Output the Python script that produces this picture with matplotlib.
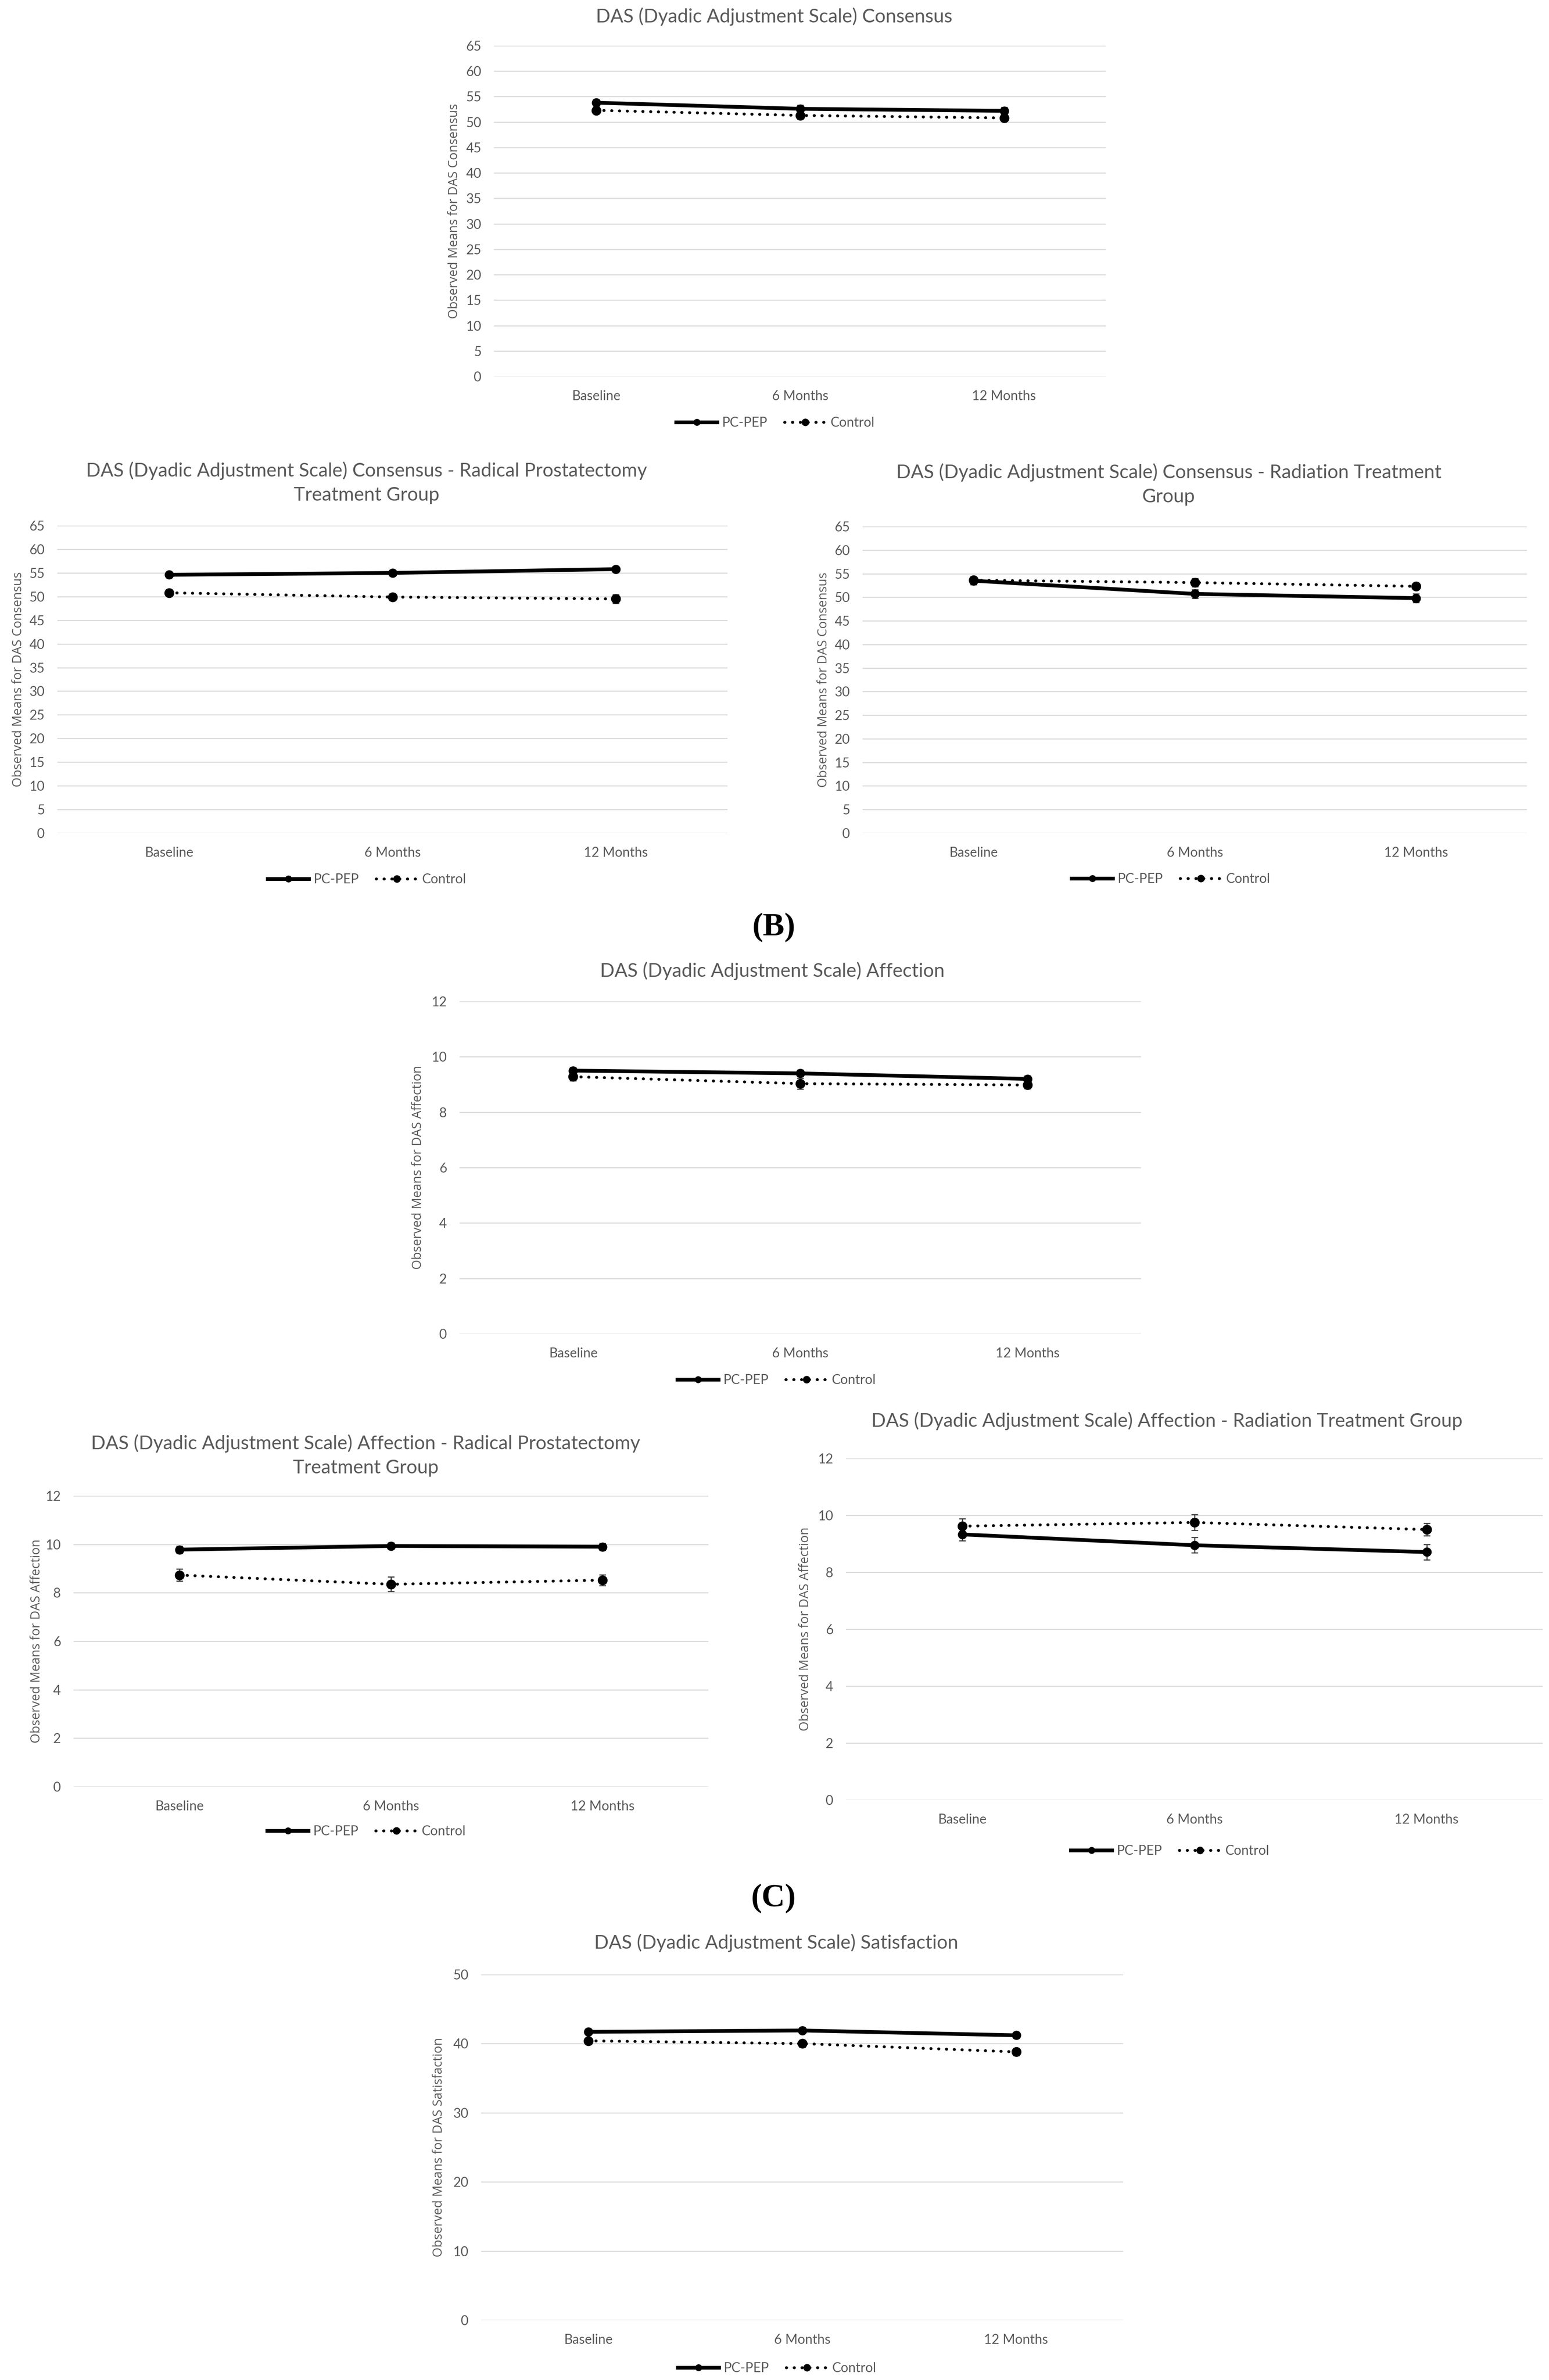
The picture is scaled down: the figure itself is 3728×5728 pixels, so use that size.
import matplotlib
matplotlib.use("Agg")
import matplotlib.pyplot as plt
from matplotlib.lines import Line2D

W, H = 3728, 5728
DPI = 100
GREY = "#595959"
GRID = "#d9d9d9"
TEXT_FONT = ["Lato", "DejaVu Sans"]
LABEL_FONT = ["Open Sans", "DejaVu Sans"]
DOTS = (0, (0.1, 2.6))

time_points = ["Baseline", "6 Months", "12 Months"]

# Consensus, all participants
cons_pcpep = [53.8, 52.6, 52.2]
cons_pcpep_err = [0.6, 0.7, 0.7]
cons_control = [52.3, 51.3, 50.8]
cons_control_err = [0.6, 0.7, 0.6]

# Consensus, radical prostatectomy group
cons_rp_pcpep = [54.6, 55.0, 55.8]
cons_rp_pcpep_err = [0.6, 0.6, 0.6]
cons_rp_control = [50.8, 49.9, 49.5]
cons_rp_control_err = [0.7, 0.7, 0.9]

# Consensus, radiation group
cons_rad_pcpep = [53.5, 50.7, 49.8]
cons_rad_pcpep_err = [0.8, 0.9, 0.9]
cons_rad_control = [53.6, 53.1, 52.3]
cons_rad_control_err = [0.6, 0.9, 0.7]

# Affection, all participants
aff_pcpep = [9.50, 9.40, 9.20]
aff_pcpep_err = [0.12, 0.12, 0.12]
aff_control = [9.28, 9.03, 8.98]
aff_control_err = [0.14, 0.2, 0.13]

# Affection, radical prostatectomy group
aff_rp_pcpep = [9.78, 9.93, 9.90]
aff_rp_pcpep_err = [0.15, 0.13, 0.15]
aff_rp_control = [8.73, 8.35, 8.52]
aff_rp_control_err = [0.25, 0.3, 0.22]

# Affection, radiation group
aff_rad_pcpep = [9.33, 8.95, 8.71]
aff_rad_pcpep_err = [0.22, 0.27, 0.27]
aff_rad_control = [9.62, 9.75, 9.50]
aff_rad_control_err = [0.27, 0.28, 0.22]

# Satisfaction, all participants
sat_pcpep = [41.7, 41.9, 41.2]
sat_pcpep_err = [0.4, 0.4, 0.4]
sat_control = [40.4, 40.0, 38.8]
sat_control_err = [0.4, 0.5, 0.5]


fig = plt.figure(figsize=(W / DPI, H / DPI), dpi=DPI)
fig.patch.set_facecolor("white")


def fx(px):
    return px / W


def fy(py):
    return 1 - py / H


def draw_panel(x0, x1, ytop, ybot, ymax, ystep, title, title_xy, ylabel, ylabel_x,
               pc, pc_err, ctl, ctl_err, legend_xy):
    ax = fig.add_axes([fx(x0), fy(ybot), fx(x1 - x0), (ybot - ytop) / H])
    xs = list(range(len(time_points)))

    ax.errorbar(xs, pc, yerr=pc_err, color="black", lw=6.5, marker="o", ms=15,
                ecolor="#333333", elinewidth=1.8, capsize=5.5, capthick=1.8,
                solid_capstyle="round", zorder=3)
    ax.errorbar(xs, ctl, yerr=ctl_err, color="black", lw=5, ls=DOTS,
                marker="o", ms=16, ecolor="#333333", elinewidth=1.8, capsize=5.5,
                capthick=1.8, dash_capstyle="round", zorder=3)

    ax.set_xlim(-0.5, len(time_points) - 0.5)
    ax.set_ylim(0, ymax)
    ax.set_yticks(range(0, ymax + 1, ystep))
    ax.set_xticks(xs)
    ax.set_xticklabels(time_points)
    ax.yaxis.grid(True, color=GRID, lw=1.8)
    ax.set_axisbelow(True)
    for s in ax.spines.values():
        s.set_visible(False)
    ax.tick_params(length=0, colors=GREY, labelsize=23)
    ax.tick_params(axis="x", pad=24)
    ax.tick_params(axis="y", pad=22)
    for lab in ax.get_xticklabels() + ax.get_yticklabels():
        lab.set_family(TEXT_FONT)

    fig.text(fx(title_xy[0]), fy(title_xy[1]), title, ha="center", va="center",
             color=GREY, fontsize=33, family=TEXT_FONT, linespacing=1.45)
    fig.text(fx(ylabel_x), fy((ytop + ybot) / 2), ylabel, rotation=90,
             ha="center", va="center", color=GREY, fontsize=22, family=LABEL_FONT)

    handles = [
        Line2D([0], [0], color="black", lw=6.5, marker="o", ms=11),
        Line2D([0], [0], color="black", lw=5, ls=DOTS,
               dash_capstyle="round", marker="o", ms=12),
    ]
    fig.legend(handles, ["PC-PEP", "Control"], loc="center",
               bbox_to_anchor=(fx(legend_xy[0]), fy(legend_xy[1])), ncol=2,
               frameon=False, handlelength=3.1, columnspacing=1.3,
               handletextpad=0.35, prop={"family": TEXT_FONT, "size": 23},
               labelcolor=GREY)
    return ax


# (A) Consensus
draw_panel(1189, 2662, 110, 906, 65, 5,
           "DAS (Dyadic Adjustment Scale) Consensus", (1863, 40),
           "Observed Means for DAS Consensus", 1093,
           cons_pcpep, cons_pcpep_err, cons_control, cons_control_err,
           (1866, 1018))

draw_panel(138, 1751, 1265, 2005, 65, 5,
           "DAS (Dyadic Adjustment Scale) Consensus - Radical Prostatectomy\nTreatment Group",
           (882, 1162), "Observed Means for DAS Consensus", 44,
           cons_rp_pcpep, cons_rp_pcpep_err, cons_rp_control, cons_rp_control_err,
           (883, 2117))

draw_panel(2076, 3675, 1267, 2005, 65, 5,
           "DAS (Dyadic Adjustment Scale) Consensus - Radiation Treatment\nGroup",
           (2813, 1166), "Observed Means for DAS Consensus", 1982,
           cons_rad_pcpep, cons_rad_pcpep_err, cons_rad_control, cons_rad_control_err,
           (2818, 2116))

fig.text(fx(1862), fy(2233), "(B)", ha="center", va="center", fontsize=56,
         fontweight="bold", family=["Liberation Serif", "DejaVu Serif"])

# Affection
draw_panel(1106, 2746, 2410, 3210, 12, 2,
           "DAS (Dyadic Adjustment Scale) Affection", (1859, 2337),
           "Observed Means for DAS Affection", 1006,
           aff_pcpep, aff_pcpep_err, aff_control, aff_control_err,
           (1869, 3322))

draw_panel(177, 1705, 3600, 4300, 12, 2,
           "DAS (Dyadic Adjustment Scale) Affection - Radical Prostatectomy\nTreatment Group",
           (880, 3503), "Observed Means for DAS Affection", 88,
           aff_rp_pcpep, aff_rp_pcpep_err, aff_rp_control, aff_rp_control_err,
           (882, 4408))

draw_panel(2036, 3713, 3510, 4332, 12, 2,
           "DAS (Dyadic Adjustment Scale) Affection - Radiation Treatment Group",
           (2808, 3420), "Observed Means for DAS Affection", 1938,
           aff_rad_pcpep, aff_rad_pcpep_err, aff_rad_control, aff_rad_control_err,
           (2816, 4455))

fig.text(fx(1862), fy(4570), "(C)", ha="center", va="center", fontsize=56,
         fontweight="bold", family=["Liberation Serif", "DejaVu Serif"])

# Satisfaction
draw_panel(1158, 2703, 4752, 5584, 50, 10,
           "DAS (Dyadic Adjustment Scale) Satisfaction", (1868, 4676),
           "Observed Means for DAS Satisfaction", 1056,
           sat_pcpep, sat_pcpep_err, sat_control, sat_control_err,
           (1870, 5700))

fig.savefig("out.png", dpi=DPI, facecolor="white")
